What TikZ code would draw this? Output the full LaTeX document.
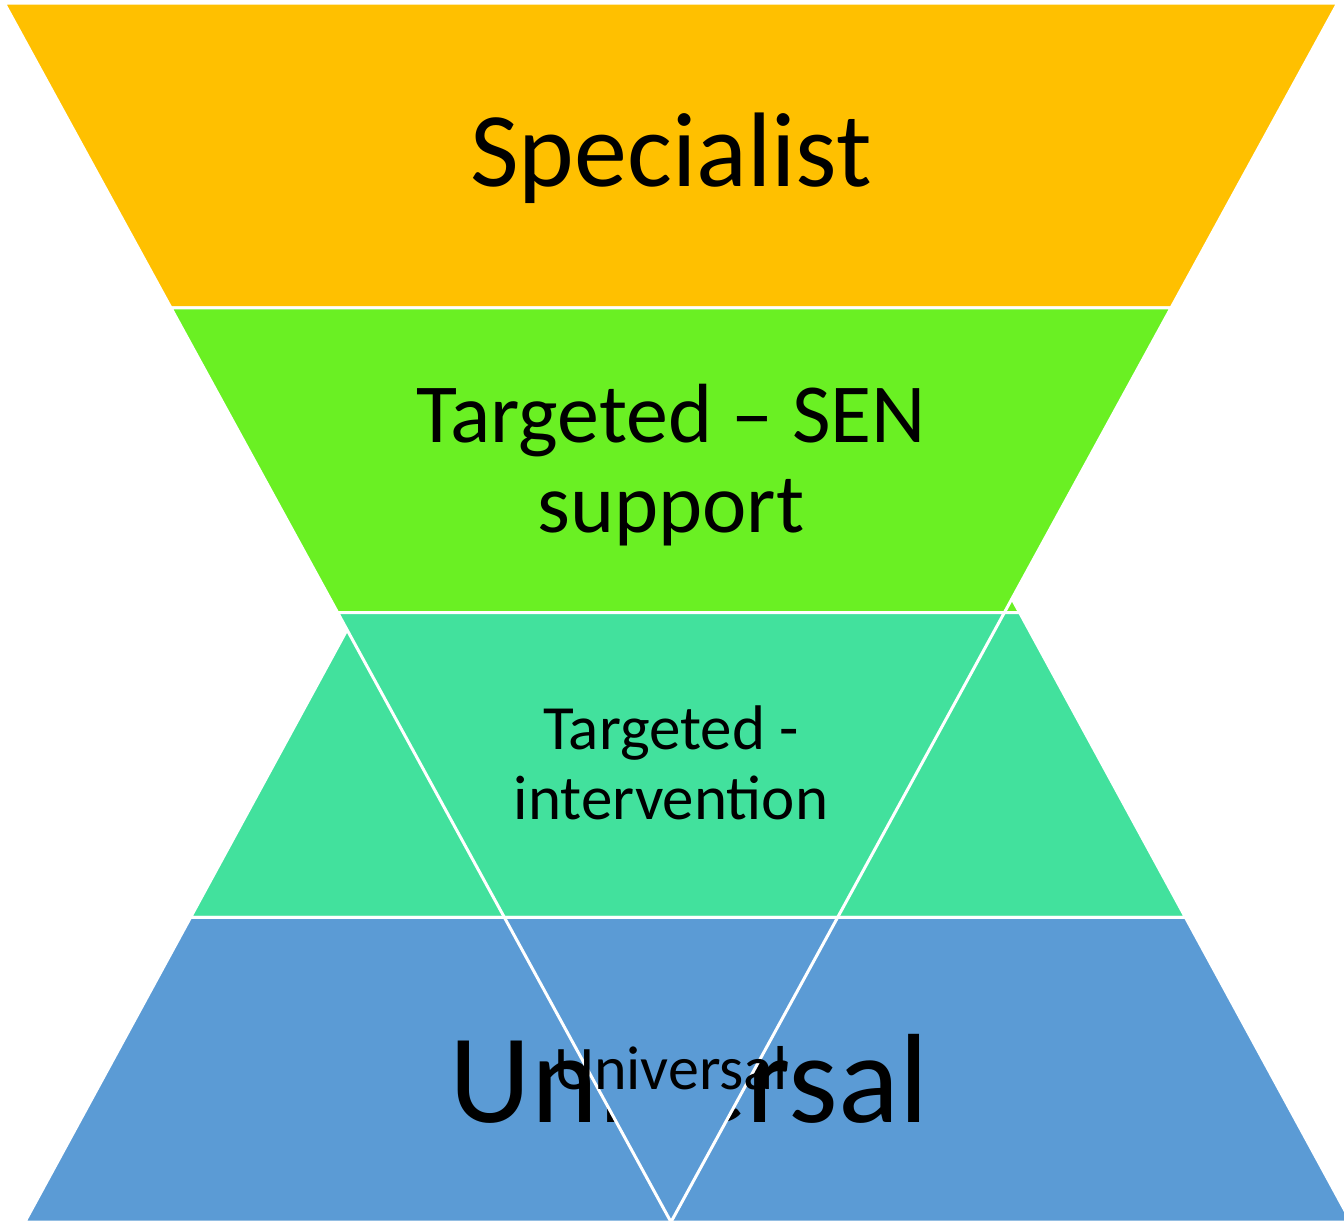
\documentclass[tikz,border=0pt]{standalone}
\usepackage{fontspec}
\setmainfont{Carlito}
\usepackage{xcolor}

\definecolor{tierorange}{HTML}{FFC000}
\definecolor{tiergreen}{HTML}{6AF023}
\definecolor{tierteal}{HTML}{42E19D}
\definecolor{tierblue}{HTML}{5B9BD5}

\begin{document}
\begin{tikzpicture}[
    x=1pt, y=-1pt,
    band/.style={draw=white, line width=3pt, line join=miter},
    tier_label/.style={align=center, text=black, inner sep=0pt}
]
\useasboundingbox (0,0) rectangle (1344,1226);

% Upright pyramid (drawn first, sits behind)
\foreach \col [count=\i from 0] in {tierorange,tiergreen,tierteal,tierblue} {
    \pgfmathsetmacro{\ya}{3+\i*304.75}
    \pgfmathsetmacro{\yb}{\ya+304.75}
    \filldraw[band, fill=\col]
        ({688-0.544*(\ya-3)}, \ya) -- ({688+0.544*(\ya-3)}, \ya) --
        ({688+0.544*(\yb-3)}, \yb) -- ({688-0.544*(\yb-3)}, \yb) -- cycle;
}
\node[tier_label, font=\fontsize{127}{132}\selectfont, anchor=base] (pyr_universal) at (689,1122) {Universal};

% Inverted funnel on top
\foreach \col [count=\i from 0] in {tierorange,tiergreen,tierteal,tierblue} {
    \pgfmathsetmacro{\ya}{3+\i*304.75}
    \pgfmathsetmacro{\yb}{\ya+304.75}
    \filldraw[band, fill=\col]
        ({671-0.547*(1222-\ya)}, \ya) -- ({671+0.547*(1222-\ya)}, \ya) --
        ({671+0.547*(1222-\yb)}, \yb) -- ({671-0.547*(1222-\yb)}, \yb) -- cycle;
}

% Funnel labels
\node[tier_label, font=\fontsize{106}{110}\selectfont, anchor=base] (specialist) at (671,186) {Specialist};
\node[tier_label, font=\fontsize{84}{90}\selectfont] (sen) at (671,465) {Targeted -- SEN\\support};
\node[tier_label, font=\fontsize{63}{70}\selectfont] (intervention) at (671,763) {Targeted -\\intervention};
\node[tier_label, font=\fontsize{62}{66}\selectfont, anchor=base] (universal) at (671,1089) {Universal};

\end{tikzpicture}
\end{document}
